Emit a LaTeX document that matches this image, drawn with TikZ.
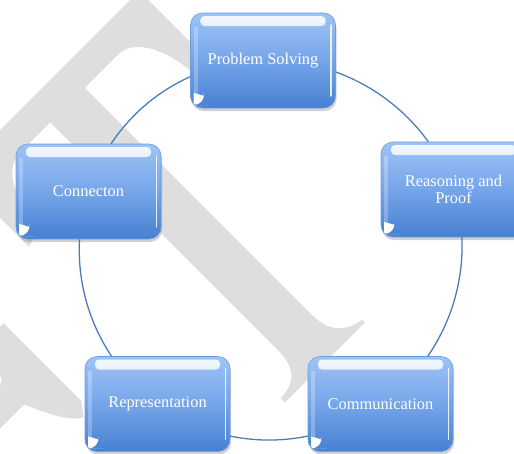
\documentclass[tikz,border=0pt]{standalone}
\usepackage{fontspec}
\setmainfont{Liberation Serif}
\usepackage{tikz}
\usetikzlibrary{shadows, backgrounds}

\definecolor{boxtop}{HTML}{9EC3F6}
\definecolor{boxmid}{HTML}{76A5E9}
\definecolor{boxbot}{HTML}{4680D1}
\definecolor{boxline}{HTML}{6C9DE0}
\definecolor{ringblue}{HTML}{4B7DBA}
\definecolor{wmgrey}{HTML}{DEDEDE}

\begin{document}
\begin{tikzpicture}[x=1pt, y=-1pt,
    stage/.style={draw=boxline, line width=0.6pt, rounded corners=12pt,
      top color=boxtop, bottom color=boxbot, middle color=boxmid,
      minimum width=145pt, minimum height=95pt, inner sep=2pt,
      text=white, align=center, font=\fontsize{16.4}{17}\selectfont,
      drop shadow={shadow xshift=1pt, shadow yshift=-3pt, opacity=0.3, fill=black!60},
      path picture={
        % gloss along the top
        \shade[top color=white, bottom color=boxtop, opacity=0.9, rounded corners=4pt]
          ([xshift=10pt,yshift=-3pt]path picture bounding box.north west) rectangle
          ([xshift=-10pt,yshift=-13pt]path picture bounding box.north east);
        % light rim on the right
        \draw[white, opacity=0.85, line width=1.2pt, line cap=round]
          ([xshift=-4.5pt,yshift=-12pt]path picture bounding box.north east) --
          ([xshift=-4.5pt,yshift=12pt]path picture bounding box.south east);
        % soft rim on the left
        \draw[white, opacity=0.25, line width=4pt]
          ([xshift=5pt,yshift=-14pt]path picture bounding box.north west) --
          ([xshift=5pt,yshift=14pt]path picture bounding box.south west);
        % curled corner
        \fill[white] ([shift={(3pt,15pt)}]path picture bounding box.south west) --
          ([shift={(3pt,7pt)}]path picture bounding box.south west) .. controls
          ([shift={(3pt,4.5pt)}]path picture bounding box.south west) and
          ([shift={(4.5pt,3pt)}]path picture bounding box.south west) ..
          ([shift={(7pt,3pt)}]path picture bounding box.south west) --
          ([shift={(15pt,3pt)}]path picture bounding box.south west) .. controls
          ([shift={(14pt,10pt)}]path picture bounding box.south west) and
          ([shift={(10pt,14pt)}]path picture bounding box.south west) ..
          ([shift={(3pt,15pt)}]path picture bounding box.south west);
      }},
    ring/.style={draw=ringblue, line width=1.3pt},
    wm/.style={fill=wmgrey}
  ]
  \useasboundingbox (0,0) rectangle (514,453);

  % the five stages
  \node[stage] (ps) at (263,60.5) {Problem Solving};
  \node[stage] (rp) at (453.5,189.5) {Reasoning and\\Proof};
  \node[stage] (comm) at (380.5,404) {Communication};
  \node[stage] (rep) at (157.5,404) {Representation};
  \node[stage] (conn) at (88.5,191.5) {Connecton};

  \begin{scope}[on background layer]
    % watermark
    \begin{scope}
      \clip (0,0) rectangle (514,453);
      \begin{scope}[x={(0.7071pt,0.7071pt)}, y={(0.7071pt,-0.7071pt)}]
        \fill[wm] (105,92) -- (-154,92) -- (-154,195) -- (-134,190)
          .. controls (-132,150) and (-115,122) .. (-94,122) -- (-51,122) -- (-51,445)
          .. controls (-51,472) and (-66,480) .. (-83,480) -- (-83,486) -- (30,486) -- (30,482)
          .. controls (12,480) and (-2,468) .. (-2,445) -- (-2,122) -- (45,122)
          .. controls (66,122) and (83,150) .. (85,190) -- (105,195) -- cycle;
        \fill[wm] (-330,231) -- (-226,231) -- (-226,341) -- (-236,354)
          .. controls (-250,348) and (-262,318) .. (-269,303) -- (-330,303) -- (-330,276) -- (-300,276)
          .. controls (-255,276) and (-255,258) .. (-300,258) -- (-330,258) -- cycle;
      \end{scope}
    \end{scope}
    % ring through the stages
    \foreach \a/\b in {ps/rp, rp/comm, comm/rep, rep/conn, conn/ps}
      \draw[ring] (\a.center) to[bend left=36, looseness=0.94] (\b.center);
  \end{scope}
\end{tikzpicture}
\end{document}
